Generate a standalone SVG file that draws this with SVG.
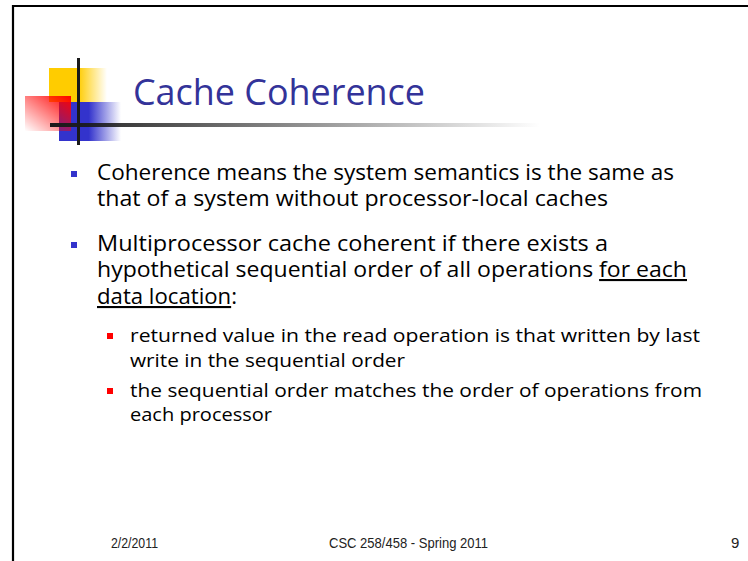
<svg xmlns="http://www.w3.org/2000/svg" width="748" height="561" viewBox="0 0 748 561">
  <defs>
    <linearGradient id="yellowFade" x1="0" y1="0" x2="1" y2="0">
      <stop offset="0" stop-color="#FFCC00"/>
      <stop offset="0.5" stop-color="#FFCC00"/>
      <stop offset="1" stop-color="#FFCC00" stop-opacity="0"/>
    </linearGradient>
    <linearGradient id="blueFade" x1="0" y1="0" x2="1" y2="0">
      <stop offset="0" stop-color="#3333CC"/>
      <stop offset="0.48" stop-color="#3333CC"/>
      <stop offset="1" stop-color="#3333CC" stop-opacity="0"/>
    </linearGradient>
    <linearGradient id="redFade" x1="1" y1="0" x2="0" y2="1">
      <stop offset="0" stop-color="#FF0000"/>
      <stop offset="1" stop-color="#FF0000" stop-opacity="0"/>
    </linearGradient>
    <linearGradient id="ruleFade" gradientUnits="userSpaceOnUse" x1="50" y1="0" x2="540" y2="0">
      <stop offset="0" stop-color="#1a1a1a"/>
      <stop offset="1" stop-color="#1a1a1a" stop-opacity="0"/>
    </linearGradient>
  </defs>
  <style>
    .title { font-family: "Comic Sans MS", "Open Sans", "DejaVu Sans", sans-serif; font-size: 36px; fill: #333399; }
    .body { font-family: "Comic Sans MS", "Open Sans", "DejaVu Sans", sans-serif; font-size: 21px; fill: #000000; }
    .sub { font-family: "Comic Sans MS", "Open Sans", "DejaVu Sans", sans-serif; font-size: 18.5px; fill: #000000; }
    .foot { font-family: "Liberation Sans", Arial, sans-serif; font-size: 15px; fill: #222222; }
    .u { text-decoration: underline; }
  </style>

  <!-- page background and frame -->
  <rect x="0" y="0" width="748" height="561" fill="#ffffff"/>
  <path d="M13 561 V6 H748" fill="none" stroke="#000000" stroke-width="2.2"/>

  <!-- title ornament -->
  <g id="ornament">
    <rect x="49" y="68" width="58" height="34" fill="url(#yellowFade)"/>
    <rect x="59" y="102" width="62" height="39" fill="url(#blueFade)"/>
    <rect x="25" y="96" width="46" height="35" fill="url(#redFade)"/>
    <rect x="77" y="58" width="3" height="87" fill="#1a1a1a"/>
    <rect x="50" y="123" width="490" height="4" fill="url(#ruleFade)"/>
  </g>

  <g id="title">
    <text class="title" x="133" y="105" textLength="292" lengthAdjust="spacingAndGlyphs">Cache Coherence</text>
  </g>

  <!-- first bullet -->
  <g id="bullet-1">
    <rect x="71" y="171" width="6" height="6" fill="#3333CC"/>
    <text class="body" x="97" y="180" textLength="577" lengthAdjust="spacingAndGlyphs">Coherence means the system semantics is the same as</text>
    <text class="body" x="97" y="206" textLength="511" lengthAdjust="spacingAndGlyphs">that of a system without processor-local caches</text>
  </g>

  <!-- second bullet -->
  <g id="bullet-2">
    <rect x="71" y="242" width="6" height="6" fill="#3333CC"/>
    <text class="body" x="97" y="251" textLength="511" lengthAdjust="spacingAndGlyphs">Multiprocessor cache coherent if there exists a</text>
    <text class="body" x="97" y="277" textLength="590" lengthAdjust="spacingAndGlyphs">hypothetical sequential order of all operations <tspan class="u">for each</tspan></text>
    <text class="body" x="97" y="304" textLength="140" lengthAdjust="spacingAndGlyphs"><tspan class="u">data location</tspan>:</text>
  </g>

  <!-- sub-bullets -->
  <g id="sub-bullet-1">
    <rect x="107" y="333" width="6" height="6" fill="#FF0000"/>
    <text class="sub" x="130" y="342" textLength="570" lengthAdjust="spacingAndGlyphs">returned value in the read operation is that written by last</text>
    <text class="sub" x="130" y="367" textLength="275" lengthAdjust="spacingAndGlyphs">write in the sequential order</text>
  </g>
  <g id="sub-bullet-2">
    <rect x="107" y="388" width="6" height="6" fill="#FF0000"/>
    <text class="sub" x="130" y="397" textLength="572" lengthAdjust="spacingAndGlyphs">the sequential order matches the order of operations from</text>
    <text class="sub" x="130" y="421" textLength="142" lengthAdjust="spacingAndGlyphs">each processor</text>
  </g>

  <!-- footer -->
  <g id="footer">
    <text class="foot" x="111" y="548" textLength="47" lengthAdjust="spacingAndGlyphs">2/2/2011</text>
    <text class="foot" x="329" y="548" textLength="159" lengthAdjust="spacingAndGlyphs">CSC 258/458 - Spring 2011</text>
    <text class="foot" x="731" y="548">9</text>
  </g>
</svg>
